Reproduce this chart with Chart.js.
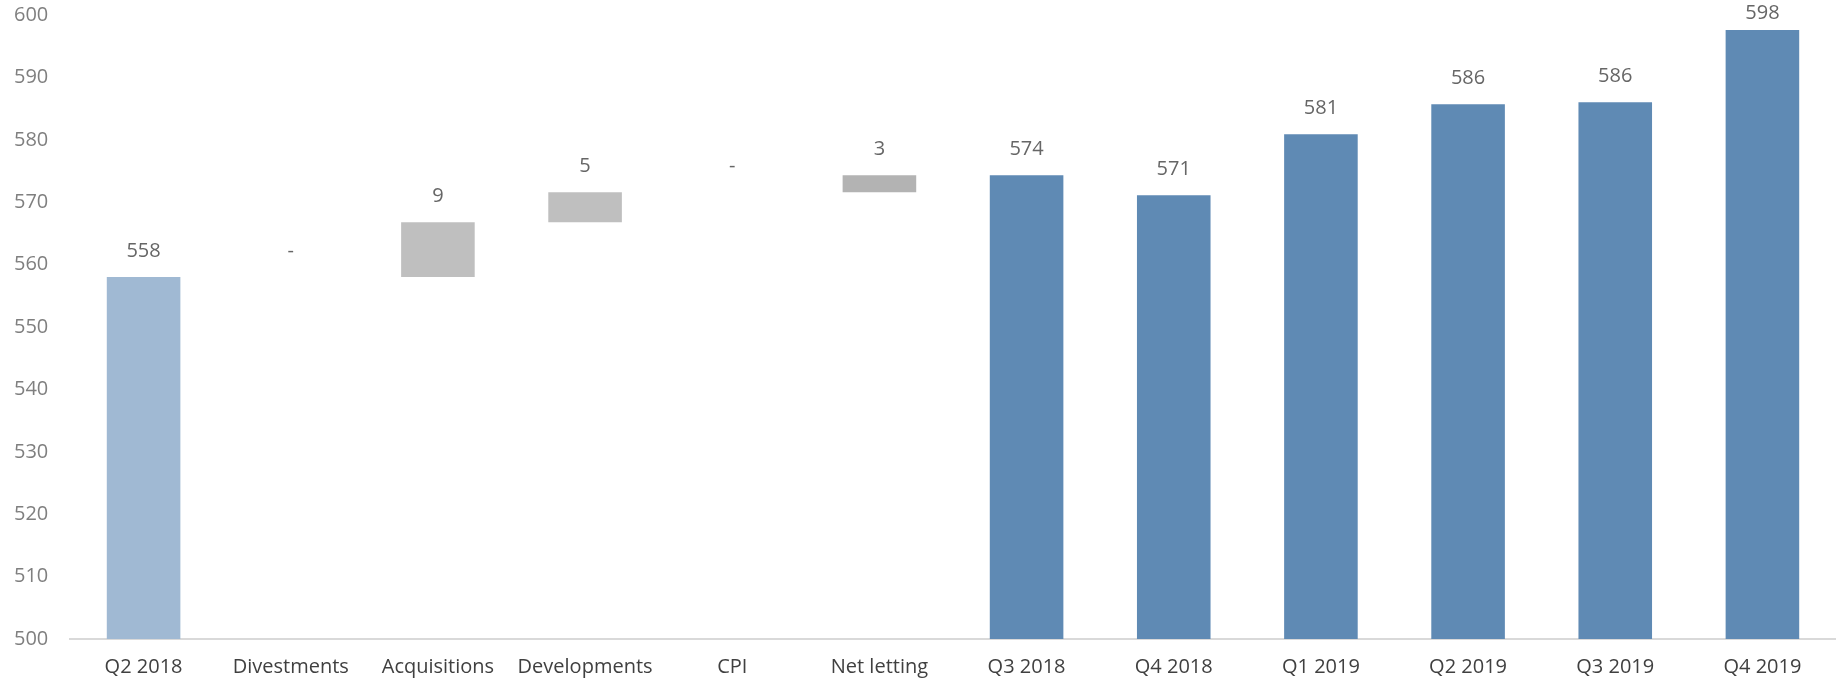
<!DOCTYPE html>
<html>
<head>
<meta charset="utf-8">
<script src="https://cdn.jsdelivr.net/npm/chart.js@4/dist/chart.umd.min.js"></script>
<style>
  html, body { margin: 0; padding: 0; background: #fff; }
  #wrap { width: 1836px; height: 678px; }
</style>
</head>
<body>
<div id="wrap"><canvas id="bridgeChart"></canvas></div>
<script>
// categories along the x axis
const categories = ["Q2 2018", "Divestments", "Acquisitions", "Developments", "CPI", "Net letting",
                    "Q3 2018", "Q4 2018", "Q1 2019", "Q2 2019", "Q3 2019", "Q4 2019"];
// what each bar is: opening total, bridge step, or quarter total
const kinds = ["open", "step", "step", "step", "step", "let",
               "total", "total", "total", "total", "total", "total"];
// quarter totals (null for bridge steps)
const totals = [558, null, null, null, null, null, 574.3, 571.1, 580.9, 585.7, 586.0, 597.6];
// bridge steps from Q2 2018 to Q3 2018 (null for totals)
const steps = [null, 0, 8.8, 4.8, 0, 2.7, null, null, null, null, null, null];
// y axis ticks
const yMin = 500, yMax = 600, yStep = 10;

const palette = { open: "#A0B9D3", step: "#BFBFBF", let: "#B3B3B3", total: "#5F8AB4" };

// build floating bars for the bridge
let running = totals[0];
const barData = categories.map((c, i) => {
    if (totals[i] !== null) { running = totals[i]; return totals[i]; }
    const from = running;
    running = running + steps[i];
    return [from, running];
});
const labelText = categories.map((c, i) => {
    const v = totals[i] !== null ? totals[i] : steps[i];
    return Math.round(v) === 0 ? "-" : String(Math.round(v));
});

// value labels above each bar, kept inside the canvas
const valueLabels = {
    id: "valueLabels",
    afterDatasetsDraw(chart) {
        const ctx = chart.ctx;
        const meta = chart.getDatasetMeta(0);
        ctx.save();
        ctx.font = "20px 'Open Sans'";
        ctx.fillStyle = "#666666";
        ctx.textAlign = "center";
        ctx.textBaseline = "middle";
        meta.data.forEach((bar, i) => {
            const top = Math.min(bar.y, bar.base);
            const y = Math.max(top - 26, chart.chartArea.top - 2);
            ctx.fillText(labelText[i], bar.x, y);
        });
        ctx.restore();
    }
};

new Chart(document.getElementById("bridgeChart"), {
    type: "bar",
    data: {
        labels: categories,
        datasets: [{
            data: barData,
            backgroundColor: kinds.map(k => palette[k]),
            borderWidth: 0,
            categoryPercentage: 1,
            barPercentage: 0.5
        }]
    },
    options: {
        responsive: true,
        maintainAspectRatio: false,
        animation: false,
        layout: { padding: { top: 15, right: 0, bottom: 0, left: 14 } },
        plugins: {
            legend: { display: false },
            tooltip: { enabled: false }
        },
        scales: {
            x: {
                grid: { display: false, drawTicks: false },
                border: { display: true, color: "#D9D9D9", width: 2 },
                ticks: {
                    color: "#404040",
                    font: { family: "'Open Sans'", size: 20 },
                    padding: 16,
                    maxRotation: 0,
                    autoSkip: false
                },
                afterFit(scale) { scale.height = 39; }
            },
            y: {
                min: yMin,
                max: yMax,
                grid: { display: false, drawTicks: false },
                border: { display: false },
                ticks: {
                    stepSize: yStep,
                    color: "#7F7F7F",
                    font: { family: "'Open Sans'", size: 20 },
                    padding: 0,
                    crossAlign: "far"
                },
                afterFit(scale) { scale.width = 56; }
            }
        }
    },
    plugins: [valueLabels]
});
</script>
</body>
</html>
